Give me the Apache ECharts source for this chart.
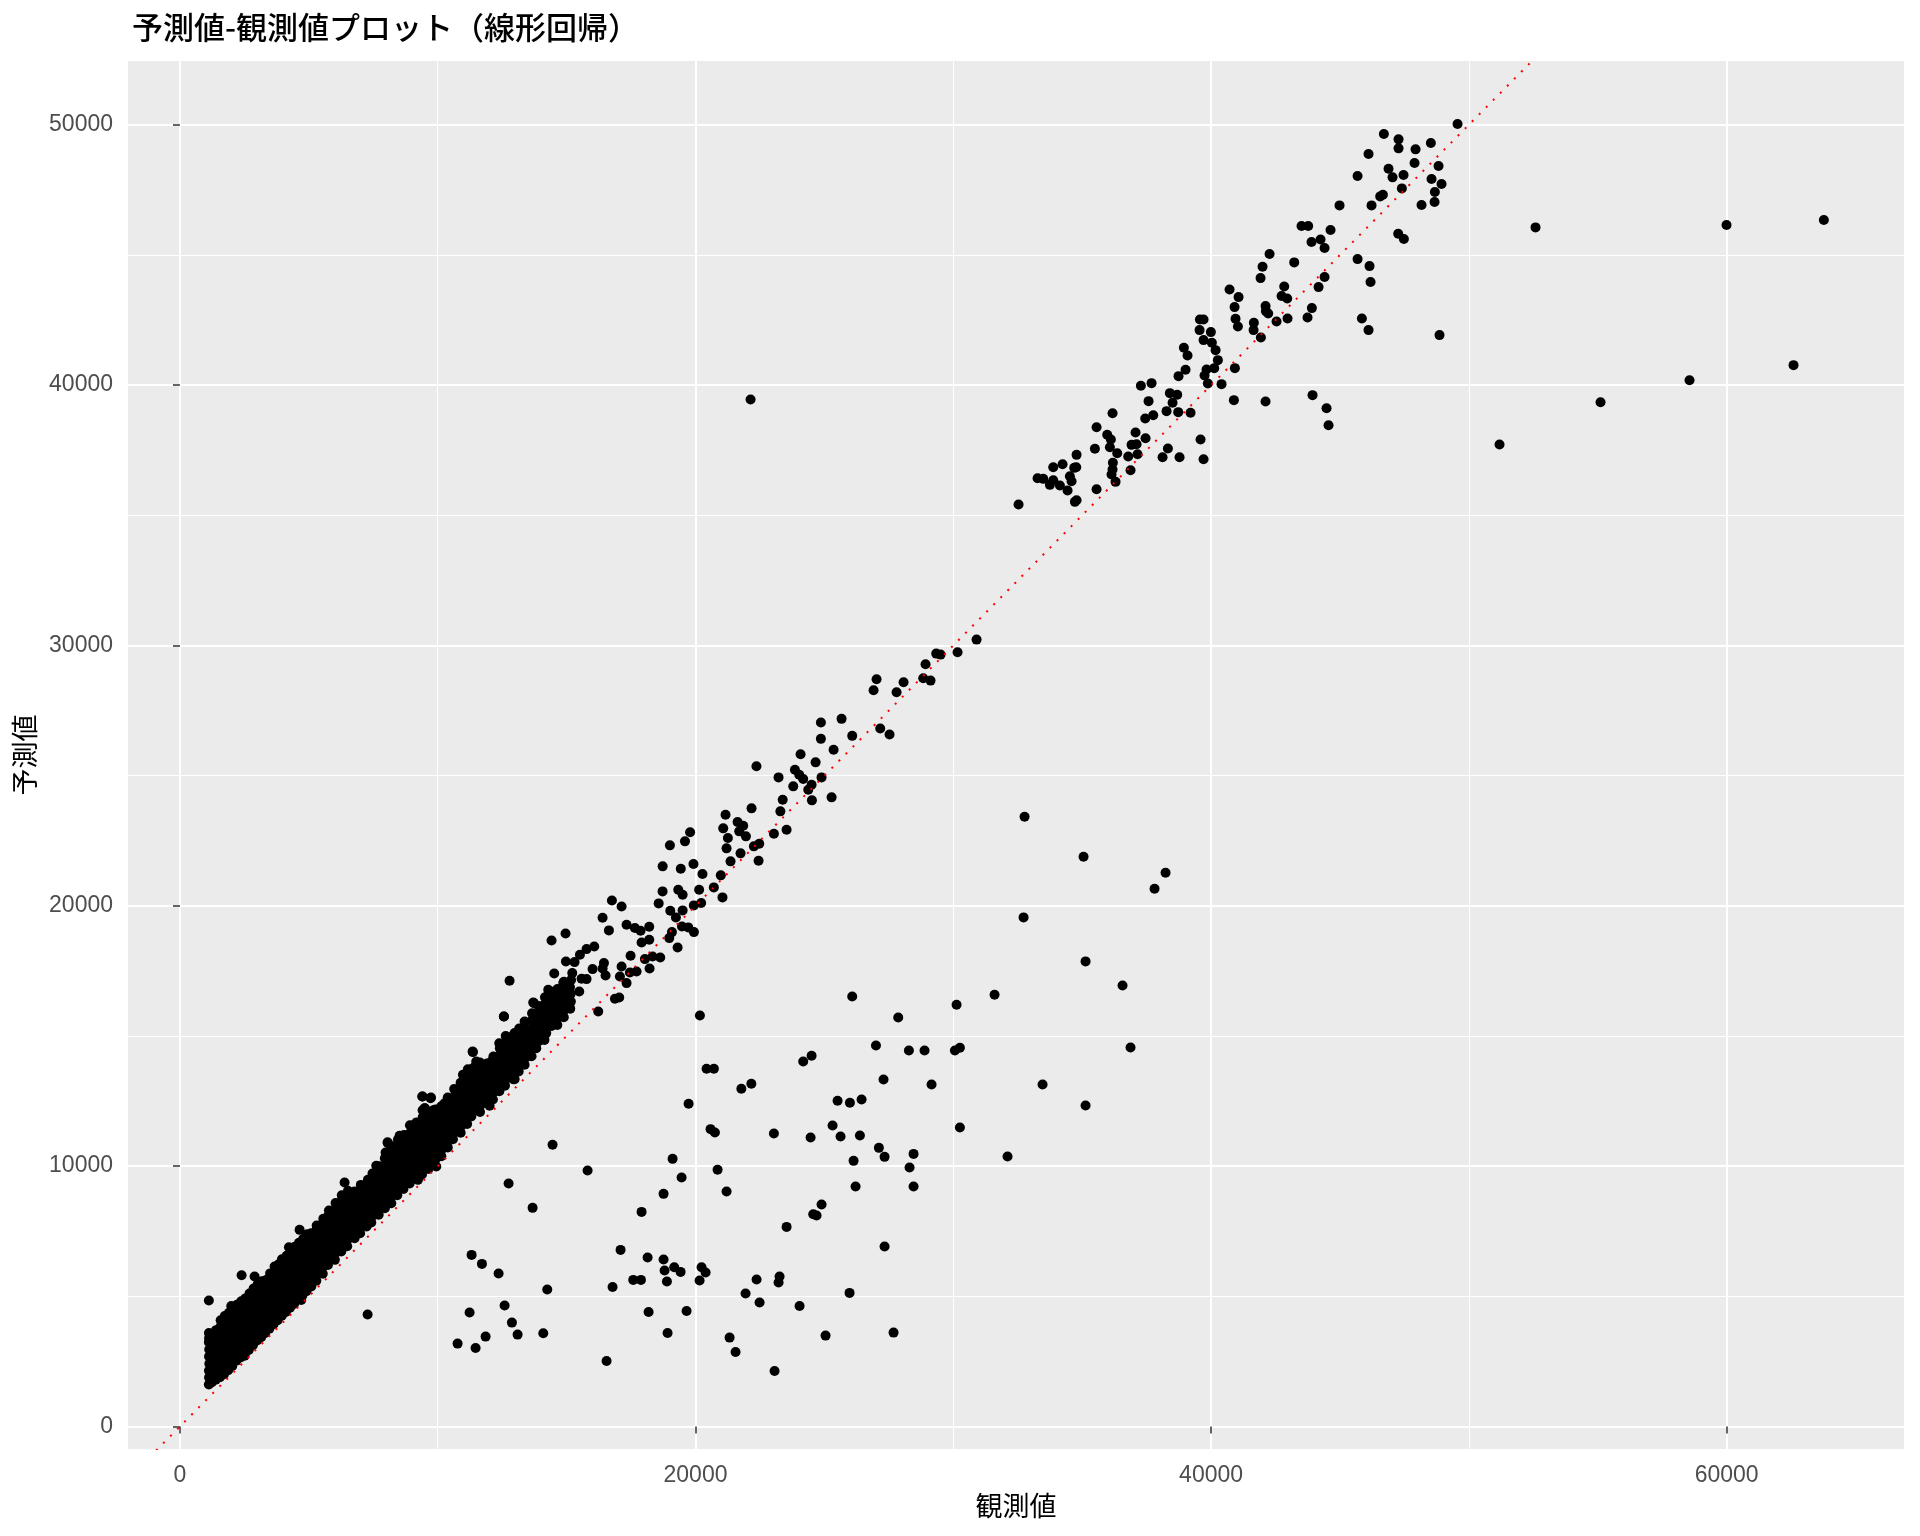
<!DOCTYPE html>
<html>
<head>
<meta charset="utf-8">
<script src="https://cdn.jsdelivr.net/npm/echarts@6/dist/echarts.min.js"></script>
<style>
html,body{margin:0;padding:0;background:#fff;}
#chart{width:1920px;height:1536px;}
</style>
</head>
<body>
<div id="chart"></div>
<script>
const titleText = '予測値-観測値プロット（線形回帰）';
const xName = '観測値';
const yName = '予測値';
const xTicks = [0, 20000, 40000, 60000];
const xMinor = [10000, 30000, 50000];
const yTicks = [0, 10000, 20000, 30000, 40000, 50000];
const yMinor = [5000, 15000, 25000, 35000, 45000];

// [observed, predicted] - dense band, low charges
const bandLow = [
[1122,1610],[1130,1880],[1125,2140],[1140,2410],[1128,2690],[1135,2960],[1124,3240],[1131,3390],[1126,3590],[1122,4836],
[1240,1700],[1262,1960],[1251,2230],[1270,2490],[1248,2770],[1258,3030],[1266,3310],[1245,3520],
[1390,1800],[1412,2060],[1398,2330],[1420,2600],[1405,2880],[1388,3150],[1415,3420],[1402,3700],
[1552,1890],[1575,2160],[1560,2440],[1583,2700],[1548,2980],[1570,3260],[1590,3530],[1565,3820],[1580,4080],
[1710,2010],[1735,2280],[1722,2560],[1700,2830],[1742,3100],[1718,3380],[1730,3650],[1708,3930],[1738,4240],
[1870,2160],[1895,2430],[1882,2700],[1860,2990],[1900,3260],[1875,3540],[1890,3800],[1868,4080],[1902,4370],
[2030,2320],[2058,2600],[2045,2870],[2020,3150],[2062,3420],[2035,3700],[2050,3980],[2028,4250],[2060,4540],[1990,4630],
[2190,2530],[2215,2790],[2205,3060],[2180,3330],[2222,3610],[2195,3880],[2210,4150],[2188,4430],[2218,4680],
[2350,2650],[2378,2920],[2362,3200],[2340,3470],[2380,3750],[2355,4020],[2370,4300],[2348,4560],[2392,5810],[2376,4810],
[2510,2720],[2535,2990],[2522,3270],[2500,3540],[2541,3820],[2515,4090],[2530,4370],[2508,4640],[2538,4920],
[2670,2940],[2695,3210],[2682,3490],[2660,3760],[2700,4040],[2676,4310],[2690,4590],[2668,4860],[2698,5110],
[2830,3120],[2855,3390],[2842,3670],[2820,3940],[2862,4220],[2835,4490],[2850,4770],[2828,5040],[2858,5300],[2896,5758],
[2990,3300],[3015,3570],[3002,3850],[2980,4120],[3020,4400],[2996,4670],[3010,4950],[2988,5220],[3018,5470],
[3150,3430],[3175,3700],[3162,3980],[3140,4250],[3182,4530],[3155,4800],[3170,5080],[3148,5350],[3178,5580],
[3310,3590],[3335,3860],[3322,4140],[3300,4410],[3342,4690],[3315,4960],[3330,5240],[3349,5630],[3308,5450],
[3470,3760],[3495,4030],[3482,4310],[3460,4580],[3500,4860],[3476,5130],[3490,5410],[3468,5680],[3498,5880],
[3630,3930],[3655,4200],[3642,4480],[3620,4750],[3672,4093],[3660,5030],[3636,5300],[3650,5580],[3628,5850],[3672,6143],
[3790,4080],[3815,4350],[3802,4630],[3780,4900],[3822,5180],[3795,5450],[3810,5730],[3788,6000],[3818,6220],
[3950,4250],[3975,4520],[3962,4800],[3940,5070],[3982,5350],[3955,5620],[3970,5900],[3948,6170],[3957,6425],
[4110,4400],[4135,4670],[4122,4950],[4100,5220],[4142,5500],[4115,5770],[4130,6050],[4108,6320],[4138,6560],
[4270,4560],[4295,4830],[4282,5110],[4260,5380],[4302,5660],[4275,5930],[4290,6210],[4268,6480],[4228,6886],[4298,6720],
[4430,4710],[4455,4980],[4442,5260],[4420,5530],[4462,5810],[4435,6080],[4450,6360],[4428,6630],[4458,6900],
[4590,4880],[4615,5150],[4602,5430],[4580,5700],[4622,5980],[4595,6250],[4610,6530],[4588,6800],[4618,7060],[4642,7552],[4706,4862],
[4750,5030],[4775,5300],[4762,5580],[4740,5850],[4782,6130],[4755,6400],[4770,6680],[4748,6950],[4778,7200],
[4910,5200],[4935,5470],[4922,5750],[4900,6020],[4942,6300],[4915,6570],[4930,6850],[4908,7120],[4938,7380]
];

const bandMid = [
[5094,5374],[5110,5650],[5085,5930],[5120,6200],[5098,6480],[5080,6750],[5115,7030],[5092,7300],[5094,7424],
[5290,5600],[5315,5880],[5300,6150],[5280,6430],[5320,6700],[5295,6980],[5310,7250],[5288,7520],[5305,7720],
[5540,5870],[5565,6150],[5550,6420],[5530,6700],[5572,6970],[5545,7250],[5560,7520],[5538,7800],[5562,7980],
[5741,6207],[5790,6480],[5775,6760],[5755,7030],[5798,7310],[5770,7580],[5785,7860],[5762,8100],[5780,8295],
[6010,6400],[6035,6670],[6022,6950],[6000,7220],[6042,7500],[6015,7770],[6030,8050],[6008,8320],[6038,8580],
[6258,6720],[6275,6990],[6262,7270],[6240,7540],[6282,7820],[6255,8090],[6270,8370],[6248,8640],[6278,8880],[6387,9371],
[6490,6920],[6515,7190],[6502,7470],[6480,7740],[6522,8020],[6495,8290],[6510,8570],[6488,8840],[6518,9050],
[6775,7232],[6755,7500],[6742,7780],[6780,8050],[6762,8330],[6745,8600],[6770,8880],[6775,9025],
[6990,7420],[7015,7690],[7002,7970],[6980,8240],[7022,8520],[6995,8790],[7010,9070],[7018,9280],
[7240,7680],[7265,7950],[7252,8230],[7230,8500],[7272,8780],[7245,9050],[7292,9473],[7260,9300],
[7422,7834],[7495,8110],[7482,8390],[7460,8660],[7502,8940],[7475,9210],[7490,9490],[7468,9720],
[7710,8130],[7735,8400],[7722,8680],[7700,8950],[7742,9230],[7715,9500],[7730,9780],[7616,10011],[7738,10000],
[7950,8380],[7975,8650],[7962,8930],[7940,9200],[7982,9480],[7955,9750],[7970,10030],[7948,10300],[8068,10882],[7978,10520],
[8198,8577],[8215,8850],[8202,9130],[8180,9400],[8222,9680],[8195,9950],[8210,10230],[8188,10500],[8218,10760],
[8430,8880],[8455,9150],[8442,9430],[8420,9700],[8462,9980],[8435,10250],[8450,10530],[8428,10800],[8521,11164],[8458,11020],
[8670,9120],[8695,9390],[8682,9670],[8660,9940],[8702,10220],[8675,10490],[8690,10770],[8668,11040],[8698,11200],
[8910,9330],[8935,9600],[8922,9880],[8900,10150],[8942,10430],[8915,10700],[8930,10980],[8908,11250],[8973,11548],
[9232,9473],[9175,9750],[9162,10030],[9140,10300],[9182,10580],[9155,10850],[9170,11130],[9148,11400],[9178,11680],
[9390,9680],[9415,9950],[9402,10230],[9380,10500],[9422,10780],[9395,11050],[9410,11330],[9388,11600],[9418,11880],[9400,12675],[9490,12227],[9413,12150],
[9640,9890],[9665,10160],[9652,10440],[9630,10710],[9672,10990],[9645,11260],[9660,11540],[9638,11810],[9668,12080],[9723,12611],
[9943,9985],[9915,10260],[9902,10540],[9880,10810],[9922,11090],[9895,11360],[9910,11640],[9888,11910],[9918,12180],[9827,12138]
];

const bandHigh = [
[10140,10380],[10165,10650],[10152,10930],[10130,11200],[10172,11480],[10145,11750],[10160,12030],[10138,12300],[10266,12419],
[10390,10720],[10415,10990],[10402,11270],[10380,11540],[10422,11820],[10395,12090],[10410,12370],[10388,12640],
[10590,11036],[10665,11310],[10652,11590],[10630,11860],[10672,12140],[10645,12410],[10660,12690],[10638,12960],
[10890,11280],[10915,11550],[10902,11830],[10880,12100],[10922,12380],[10895,12650],[10910,12930],[10888,13200],[10978,13508],
[11140,11620],[11165,11890],[11152,12170],[11130,12440],[11172,12720],[11145,12990],[11160,13270],[11138,13540],[11168,13720],
[11301,11907],[11415,12130],[11402,12410],[11380,12680],[11422,12960],[11395,13230],[11410,13510],[11388,13780],[11365,14380],[11494,14021],
[11640,12080],[11665,12350],[11652,12630],[11630,12900],[11672,13180],[11645,13450],[11660,13730],[11638,13980],
[12012,12317],[11915,12560],[11902,12840],[11880,13110],[11922,13390],[11895,13660],[11910,13940],[12076,14021],
[12140,12560],[12165,12830],[12152,13110],[12130,13380],[12172,13660],[12145,13930],[12160,14210],
[12390,12880],[12415,13150],[12402,13430],[12380,13700],[12422,13980],[12395,14250],[12410,14530],[12388,14720],
[12594,13124],[12665,13400],[12652,13680],[12630,13950],[12672,14230],[12645,14500],[12660,14780],[12638,15000],[12568,15750],
[12982,13342],[12915,13620],[12902,13900],[12880,14170],[12922,14450],[12895,14720],[12910,15000],[12982,15110],
[13140,13640],[13165,13910],[13152,14190],[13130,14460],[13172,14740],[13145,15010],[13160,15290],
[13370,13893],[13415,14170],[13402,14450],[13380,14720],[13422,15000],[13395,15270],[13370,15558],
[13640,14220],[13665,14490],[13652,14770],[13630,15040],[13672,15320],[13645,15590],[13660,15870],
[13822,14533],[13915,14800],[13902,15080],[13880,15350],[13922,15630],[13895,15900],[13732,16262],[13910,16150],
[14140,14850],[14165,15110],[14152,15390],[14130,15660],[14172,15940],[14145,16210],[14160,16490],
[14210,15110],[14415,15380],[14402,15660],[14380,15930],[14422,16210],[14395,16480],[14410,16700],
[14640,15420],[14665,15700],[14652,15970],[14630,16250],[14672,16520],[14645,16800],
[14890,15720],[14915,16000],[14902,16270],[14880,16550],[14922,16820],[14895,17080],
[15140,16050],[15165,16320],[15152,16600],[15130,16870],[15172,17150]
];

// sparse points along the diagonal, 15000 - 31000
const upperTrend = [
[24864,27040],[25666,27181],[24864,26413],[26079,26528],[27165,26810],[27527,26580],[25357,25997],[24076,25818],
[24658,25510],[22364,25357],[23856,25228],[24023,25036],[24178,24869],[23221,24933],[24889,24933],[23792,24588],
[24503,24652],[24374,24460],[25279,24165],[24516,24050],[23382,24076],[22174,23743],[21165,23500],[23292,23628],
[21631,23218],[21851,23077],[21075,22975],[21696,22860],[21955,22668],[23041,22771],[23533,22924],[21256,22604],
[21204,22207],[22472,22386],[22264,22284],[21747,22015],[22446,21733],[21359,21707],[19790,22822],[19591,22476],
[19007,22322],[18726,21515],[19429,21425],[19921,21604],[20270,21220],[20981,21169],[20710,20707],[21046,20323],
[18722,20554],[19331,20618],[19500,20426],[20141,20618],[18571,20093],[19934,20016],[20219,20105],[19022,19810],
[19500,19823],[19240,19554],[19474,19208],[19719,19170],[19939,18990],[19086,18990],[18982,18759],[19306,18401],
[16757,20201],[17132,19970],[16395,19542],[16641,19055],[17326,19273],[17649,19145],[17869,19042],[18205,19196],
[17908,18593],[18205,18695],[17481,18080],[18037,17952],[18334,18055],[18632,18016],[18218,17593],[17132,17670],
[17455,17440],[17714,17478],[17067,17286],[17326,17030],[17041,16479],[16874,16428],[16227,15941],[16447,17799],
[16511,17325],[16395,17593],[16007,17568],[15580,17197],[15774,17184],[15490,16709],[16072,18439],[15774,18337],
[15516,18119],[15309,17837],[15219,17415],[14973,17863],[14870,17030],[15128,16645],[14416,18670],[14959,18939],
[14520,17402],[12787,17120],[14973,16223],[14287,16774],[13705,16287],[12567,15749],[11353,14405],[12024,12676],
[12606,13086],[12929,13342],[9413,12676],[9737,12637],[9504,12227],[9827,12138],[8922,11574],[8055,10920],
[30903,30225],[30166,29738],[29338,29687],[29506,29649],[28924,29277],[28834,28739],[29118,28650],[28071,28586],
[27800,28201],[27024,28701],[26907,28278]
];

// upper cluster, 32000 - 50000
const topCluster = [
[49561,50030],[46703,49645],[47272,49440],[47272,49094],[47932,49056],[48526,49299],[46108,48877],[47893,48531],
[48824,48415],[46884,48313],[45682,48031],[47039,47980],[47466,48070],[48552,47916],[48940,47724],[47401,47557],
[48681,47416],[48669,47032],[48164,46917],[46561,47250],[46664,47314],[46225,46904],[44983,46904],[43509,46110],
[43768,46110],[44634,45956],[44246,45597],[43897,45495],[44402,45264],[47259,45815],[47479,45610],[42268,45034],
[43225,44714],[45682,44841],[46147,44572],[46186,43958],[44402,44150],[44169,43765],[41997,44547],[41919,44111],
[40717,43676],[41066,43381],[40911,42997],[42837,43791],[42734,43420],[42953,43330],[42113,43035],[42126,42843],
[42216,42753],[43910,42958],[43742,42600],[42966,42561],[42540,42446],[41660,42395],[41648,42113],[41932,41831],
[40949,42548],[41040,42254],[45850,42561],[46108,42113],[48862,41921],[39566,42523],[39708,42523],[39553,42113],
[39992,42036],[39708,41729],[40031,41626],[40174,41344],[38945,41434],[39087,41139],[40264,40960],[39010,40589],
[38738,40345],[39824,40601],[40122,40652],[39747,40371],[39876,40063],[40923,40652],[40406,40038],[37277,39974],
[37691,40076],[38402,39692],[38687,39628],[38506,39320],[37575,39384],[38273,39000],[38725,38962],[39204,38936],
[37756,38846],[37445,38718],[36178,38923],[40885,39423],[42113,39372],[43936,39615],[44479,39115],[44557,38462],
[35558,38385],[35971,38091],[36113,37911],[37070,38180],[37458,37962],[39592,37911],[35493,37553],[36075,37617],
[36915,37706],[37109,37732],[36359,37386],[36786,37258],[37148,37348],[38325,37565],[38118,37232],[38777,37232],
[39708,37155],[34782,37322],[36191,37015],[36178,36758],[36139,36566],[36295,36284],[36876,36733],[35558,36003],
[34769,36848],[33877,36848],[34239,36963],[34691,36822],[33269,36425],[33489,36400],[33877,36348],[33747,36169],
[34135,36143],[34523,36502],[34588,36310],[34433,35951],[34782,35580],[34717,35516],[32532,35413]
];

// far right, high charges
const farRight = [
[52586,46058],[59995,46148],[63771,46340],[62595,40767],[58560,40190],[55108,39345],[51190,37718]
];

// points far from the diagonal
const offLine = [
[22136,39448],
[7280,4298],[12750,9332],[13680,8397],[11314,6591],[11715,6245],[12361,5873],[14249,5259],[11236,4375],
[12594,4644],[12878,3990],[13098,3529],[14094,3580],[10771,3183],[11469,3017],[11857,3452],
[14455,10819],[20171,15788],[26079,16518],[27864,15711],[27000,14635],[24178,14021],[24503,14239],[20429,13738],
[20713,13738],[27294,13329],[21778,12970],[22166,13162],[19732,12394],[25511,12509],[25989,12432],[26442,12560],
[20584,11421],[20752,11293],[23041,11254],[24464,11100],[25317,11561],[25627,11138],[26377,11177],
[29157,13137],[30256,11484],[28278,14443],[28884,14443],[30062,14443],[30256,14546],[28459,10470],[28304,9945],
[28459,9215],[27334,6911],[27683,3606],[27114,10702],[27334,10356],[26132,10203],[26209,9215],[19111,10280],
[15813,9832],[20856,9858],[19460,9563],[18761,8935],[21205,9025],[17908,8243],[24890,8524],[24567,8153],
[24696,8102],[23533,7667],[17093,6783],[18141,6488],[18761,6411],[18800,5988],[19175,6117],[19421,5938],
[18891,5566],[17585,5630],[17882,5630],[16783,5361],[20235,6117],[20391,5912],[20158,5604],[22369,5643],
[23261,5758],[23222,5528],[21942,5105],[22485,4759],[24037,4631],[25976,5131],[18180,4400],[19654,4439],
[18917,3593],[16550,2517],[21322,3414],[21554,2863],[25045,3491],[23067,2133],
[32765,23423],[35053,21886],[38234,21271],[37807,20656],[32726,19555],[35131,17864],[36566,16941],[31601,16583],
[30127,16198],[36876,14559],[33463,13137],[35131,12330],[32105,10370]
];

// reference line y = x
const refLine = [[-2015, -2015], [66880, 66880]];

const xMin = -2015, xMax = 66880, yMin = -865, yMax = 52450;

const allPoints = [].concat(bandLow, bandMid, bandHigh, upperTrend, topCluster, farRight, offLine);

const tickFont = 'Liberation Sans, Arial, sans-serif';
const cjkFont = 'Noto Sans CJK JP, sans-serif';
const plain = v => String(v);

const chart = echarts.init(document.getElementById('chart'), null, {renderer: 'canvas'});
chart.setOption({
  animation: false,
  backgroundColor: '#FFFFFF',
  title: {
    text: titleText, left: 127, top: 7,
    textStyle: {fontFamily: cjkFont, fontSize: 31, fontWeight: 500, color: '#000000'}
  },
  grid: {
    left: 128, right: 16, top: 61, bottom: 87,
    show: true, backgroundColor: '#EBEBEB', borderWidth: 0, borderColor: 'transparent'
  },
  xAxis: [{
    type: 'value', min: xMin, max: xMax, position: 'bottom',
    name: xName, nameLocation: 'middle', nameGap: 41,
    nameTextStyle: {fontFamily: cjkFont, fontSize: 27, color: '#000000'},
    axisLine: {show: false},
    axisTick: {show: true, length: 7, lineStyle: {color: '#333333', width: 1.5}, customValues: xTicks},
    axisLabel: {show: true, customValues: xTicks, formatter: plain, margin: 15, fontSize: 23, color: '#4D4D4D', fontFamily: tickFont},
    splitLine: {show: true, lineStyle: {color: '#FFFFFF', width: 2}}
  }, {
    type: 'value', min: xMin, max: xMax, position: 'bottom',
    axisLine: {show: false},
    axisTick: {show: false, customValues: xMinor},
    axisLabel: {show: false, customValues: xMinor},
    splitLine: {show: true, lineStyle: {color: '#FFFFFF', width: 1}}
  }],
  yAxis: [{
    type: 'value', min: yMin, max: yMax, position: 'left',
    name: yName, nameLocation: 'middle', nameGap: 86,
    nameTextStyle: {fontFamily: cjkFont, fontSize: 27, color: '#000000'},
    axisLine: {show: false},
    axisTick: {show: true, length: 7, lineStyle: {color: '#333333', width: 1.5}, customValues: yTicks},
    axisLabel: {show: true, customValues: yTicks, formatter: plain, margin: 15, fontSize: 23, color: '#4D4D4D', fontFamily: tickFont},
    splitLine: {show: true, lineStyle: {color: '#FFFFFF', width: 2}}
  }, {
    type: 'value', min: yMin, max: yMax, position: 'left',
    axisLine: {show: false},
    axisTick: {show: false, customValues: yMinor},
    axisLabel: {show: false, customValues: yMinor},
    splitLine: {show: true, lineStyle: {color: '#FFFFFF', width: 1}}
  }],
  series: [{
    type: 'scatter', xAxisIndex: 0, yAxisIndex: 0,
    data: allPoints, symbol: 'circle', symbolSize: 10,
    itemStyle: {color: '#000000', opacity: 1},
    emphasis: {disabled: true}, z: 2
  }, {
    type: 'line', xAxisIndex: 0, yAxisIndex: 0,
    data: refLine, showSymbol: false, symbol: 'none', clip: true,
    lineStyle: {color: '#FF0000', width: 2, type: [2, 8]},
    emphasis: {disabled: true}, z: 3
  }]
});
</script>
</body>
</html>
